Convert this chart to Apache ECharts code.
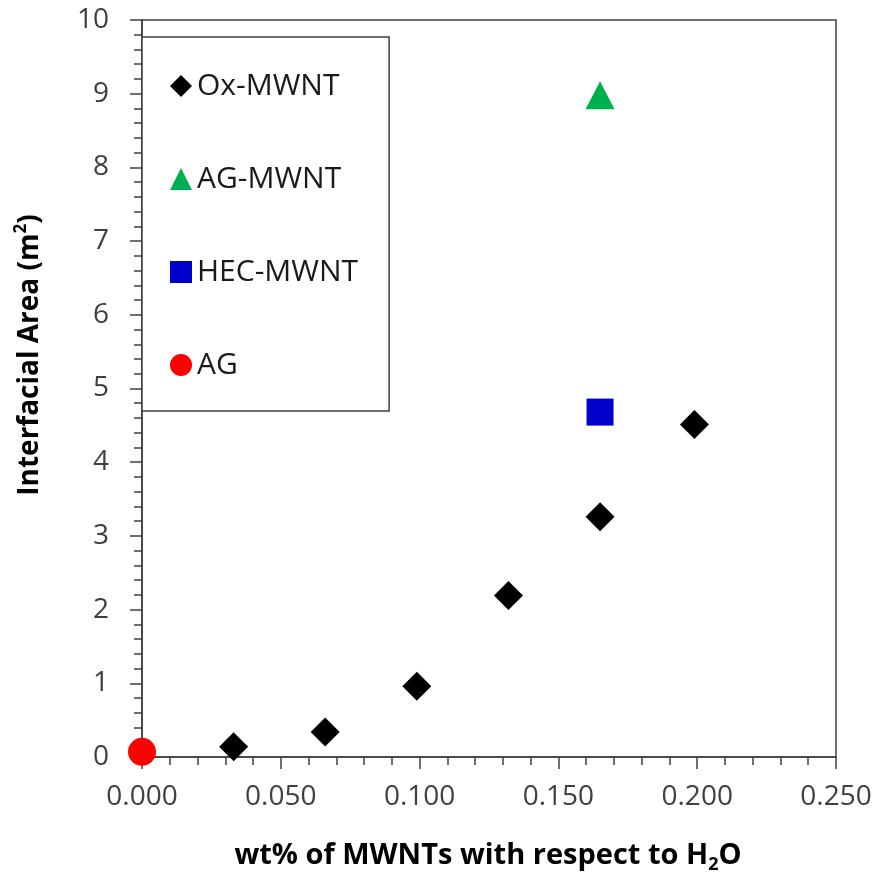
<!DOCTYPE html>
<html>
<head>
<meta charset="utf-8">
<script src="https://cdn.jsdelivr.net/npm/echarts@6/dist/echarts.min.js"></script>
<style>
html,body{margin:0;padding:0;background:#fff;}
#chart{width:877px;height:879px;}
</style>
</head>
<body>
<div id="chart"></div>
<script>
// Data
const oxMwntX = [0.033, 0.066, 0.099, 0.132, 0.165, 0.199];
const oxMwntY = [0.14, 0.34, 0.96, 2.19, 3.26, 4.51];
const agMwntX = [0.165];
const agMwntY = [8.98];
const hecMwntX = [0.165];
const hecMwntY = [4.68];
const agX = [0.000];
const agY = [0.07];
const seriesNames = ['Ox-MWNT', 'AG-MWNT', 'HEC-MWNT', 'AG'];
const xTitle = '{a|wt% of MWNTs with respect to H}{s|2}{a|O}';
const yTitle = '{a|Interfacial Area (m}{s|2}{a|)}';

const FONT = 'Open Sans';
function pairs(xs, ys){ return xs.map((x,i)=>[x, ys[i]]); }

const chart = echarts.init(document.getElementById('chart'), null, {renderer:'canvas'});
chart.setOption({
  backgroundColor:'#ffffff',
  animation:false,
  grid:{left:142, right:41, top:20, bottom:122, show:true, borderColor:'#404040', borderWidth:1.5, backgroundColor:'transparent'},
  xAxis:{
    type:'value', min:0, max:0.25, interval:0.05,
    axisLine:{show:true, onZero:false, lineStyle:{color:'#404040', width:1.5}},
    axisTick:{show:true, inside:false, length:12, lineStyle:{color:'#404040', width:1.5}},
    minorTick:{show:true, splitNumber:5, length:8, lineStyle:{color:'#404040', width:1.5}},
    splitLine:{show:false},
    axisLabel:{fontFamily:FONT, fontSize:28, color:'#404040', margin:26,
      formatter:(v)=>v.toFixed(3)}
  },
  yAxis:{
    type:'value', min:0, max:10, interval:1,
    axisLine:{show:true, onZero:false, lineStyle:{color:'#404040', width:1.5}},
    axisTick:{show:true, inside:false, length:12, lineStyle:{color:'#404040', width:1.5}},
    minorTick:{show:true, splitNumber:5, length:8, lineStyle:{color:'#404040', width:1.5}},
    splitLine:{show:false},
    axisLabel:{fontFamily:FONT, fontSize:28, color:'#404040', margin:33}
  },
  legend:{
    orient:'vertical', left:142, top:37,
    padding:[32,31,29,28],
    borderColor:'#404040', borderWidth:1.5, backgroundColor:'#fff',
    itemWidth:22, itemHeight:22, itemGap:59,
    textStyle:{fontFamily:FONT, fontSize:30, color:'#1a1a1a', lineHeight:34},
    data:seriesNames
  },
  graphic:[
    {type:'text', x:488, y:856, style:{text:xTitle, align:'center', verticalAlign:'middle', fill:'#000',
      rich:{a:{fontFamily:FONT, fontSize:29, fontWeight:'bold', lineHeight:36, fill:'#000'},
            s:{fontFamily:FONT, fontSize:18, fontWeight:'bold', lineHeight:18, verticalAlign:'bottom', fill:'#000'}}}},
    {type:'text', x:30, y:355, rotation:Math.PI/2, style:{text:yTitle, align:'center', verticalAlign:'middle', fill:'#000',
      rich:{a:{fontFamily:FONT, fontSize:28, fontWeight:'bold', lineHeight:34, fill:'#000'},
            s:{fontFamily:FONT, fontSize:17, fontWeight:'bold', lineHeight:17, verticalAlign:'top', fill:'#000'}}}}
  ],
  series:[
    {name:seriesNames[0], type:'scatter', symbol:'diamond', symbolSize:29, clip:false,
      itemStyle:{color:'#000000', opacity:1}, data:pairs(oxMwntX, oxMwntY), z:3},
    {name:seriesNames[1], type:'scatter', symbol:'triangle', symbolSize:[29,28], clip:false,
      itemStyle:{color:'#00B050', opacity:1}, data:pairs(agMwntX, agMwntY), z:3},
    {name:seriesNames[2], type:'scatter', symbol:'rect', symbolSize:27, clip:false,
      itemStyle:{color:'#0000CC', opacity:1}, data:pairs(hecMwntX, hecMwntY), z:3},
    {name:seriesNames[3], type:'scatter', symbol:'circle', symbolSize:28, clip:false,
      itemStyle:{color:'#FF0000', opacity:1}, data:pairs(agX, agY), z:3}
  ]
});
</script>
</body>
</html>
